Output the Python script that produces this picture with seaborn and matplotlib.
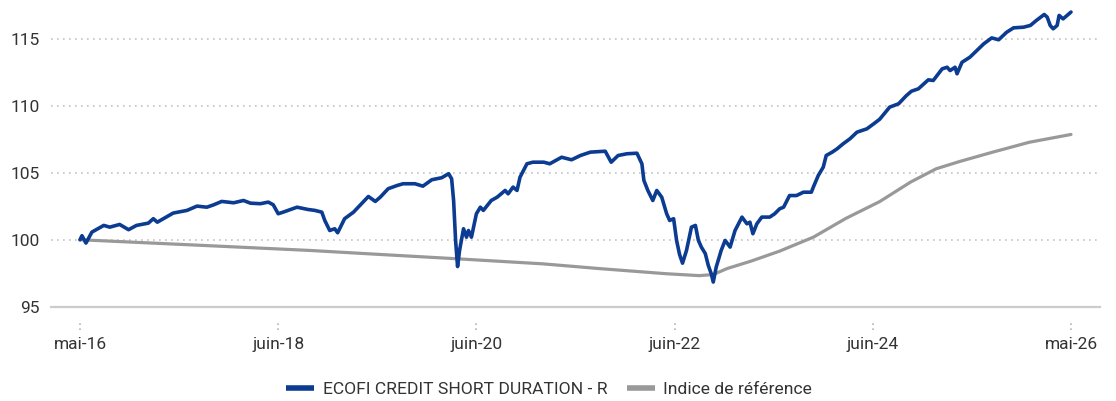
import numpy as np
import pandas as pd
import matplotlib
matplotlib.use("Agg")
import matplotlib.pyplot as plt
import seaborn as sns

# Fund NAV (base 100), dates as decimal years
fund_t = [
    2016.33, 2016.35, 2016.39, 2016.45, 2016.57, 2016.63, 2016.73, 2016.82, 2016.90,
    2017.02, 2017.07, 2017.11, 2017.20, 2017.27, 2017.41, 2017.51, 2017.61, 2017.68,
    2017.76, 2017.88, 2017.98, 2018.05, 2018.15, 2018.23, 2018.28, 2018.33, 2018.38,
    2018.43, 2018.52, 2018.63, 2018.70, 2018.77, 2018.80, 2018.85, 2018.90, 2018.93,
    2019.00, 2019.09, 2019.17, 2019.24, 2019.31, 2019.36, 2019.44, 2019.53, 2019.59,
    2019.71, 2019.79, 2019.88, 2019.98, 2020.05, 2020.08, 2020.10, 2020.12, 2020.14,
    2020.16, 2020.20, 2020.23, 2020.25, 2020.28, 2020.33, 2020.37, 2020.40, 2020.48,
    2020.54, 2020.62, 2020.65, 2020.70, 2020.74, 2020.77, 2020.84, 2020.90, 2021.01,
    2021.07, 2021.19, 2021.29, 2021.38, 2021.48, 2021.63, 2021.69, 2021.76, 2021.85,
    2021.95, 2022.00, 2022.02, 2022.06, 2022.11, 2022.15, 2022.20, 2022.25, 2022.28,
    2022.32, 2022.35, 2022.38, 2022.41, 2022.45, 2022.50, 2022.54, 2022.57, 2022.60,
    2022.64, 2022.67, 2022.70, 2022.72, 2022.75, 2022.80, 2022.84, 2022.89, 2022.94,
    2023.01, 2023.06, 2023.09, 2023.12, 2023.16, 2023.21, 2023.29, 2023.34, 2023.39,
    2023.43, 2023.49, 2023.56, 2023.63, 2023.71, 2023.73, 2023.78, 2023.83, 2023.86,
    2023.92, 2023.97, 2024.03, 2024.10, 2024.17, 2024.27, 2024.34, 2024.40, 2024.50,
    2024.59, 2024.67, 2024.72, 2024.79, 2024.89, 2024.94, 2025.03, 2025.08, 2025.11,
    2025.16, 2025.18, 2025.23, 2025.31, 2025.38, 2025.45, 2025.53, 2025.60, 2025.68,
    2025.75, 2025.85, 2025.92, 2025.98, 2026.06, 2026.09, 2026.12, 2026.15, 2026.19,
    2026.21, 2026.25, 2026.29, 2026.33,
]
fund_v = [
    100.00, 100.30, 99.75, 100.57, 101.07, 100.94, 101.14, 100.75, 101.07,
    101.24, 101.57, 101.31, 101.69, 101.99, 102.19, 102.51, 102.43, 102.61,
    102.86, 102.76, 102.93, 102.73, 102.69, 102.81, 102.61, 101.94, 102.06,
    102.19, 102.43, 102.26, 102.19, 102.06, 101.44, 100.69, 100.82, 100.52,
    101.57, 102.06, 102.69, 103.23, 102.86, 103.18, 103.81, 104.05, 104.18,
    104.18, 104.00, 104.48, 104.63, 104.93, 104.55, 102.93, 99.95, 98.00,
    99.20, 100.82, 100.19, 100.69, 100.19, 101.94, 102.43, 102.19, 102.93,
    103.18, 103.68, 103.43, 103.93, 103.68, 104.67, 105.67, 105.79, 105.79,
    105.67, 106.16, 105.97, 106.29, 106.54, 106.61, 105.79, 106.29, 106.42,
    106.46, 105.67, 104.43, 103.68, 102.93, 103.68, 103.18, 101.94, 101.44,
    101.57, 99.95, 98.90, 98.25, 99.20, 100.94, 101.07, 99.95, 99.45,
    98.96, 98.08, 97.46, 96.84, 97.96, 99.20, 99.95, 99.45, 100.69,
    101.69, 101.19, 101.31, 100.45, 101.19, 101.69, 101.69, 101.94, 102.31,
    102.43, 103.30, 103.30, 103.55, 103.55, 103.93, 104.80, 105.42, 106.29,
    106.54, 106.79, 107.16, 107.54, 108.03, 108.28, 108.66, 109.00, 109.90,
    110.15, 110.77, 111.09, 111.27, 111.94, 111.89, 112.76, 112.88, 112.63,
    112.88, 112.39, 113.25, 113.63, 114.13, 114.63, 115.07, 114.93, 115.49,
    115.82, 115.87, 116.00, 116.37, 116.82, 116.62, 116.00, 115.75, 116.00,
    116.75, 116.49, 116.75, 117.00,
]

# Benchmark index (base 100)
bench_t = [
    2016.33, 2017.50, 2018.65, 2019.36, 2020.13, 2021.00, 2021.58, 2022.25, 2022.58,
    2022.72, 2022.86, 2023.10, 2023.39, 2023.73, 2024.06, 2024.40, 2024.71, 2024.97,
    2025.21, 2025.54, 2025.91, 2026.33,
]
bench_v = [
    100.00, 99.60, 99.20, 98.90, 98.58, 98.20, 97.84, 97.46, 97.32,
    97.40, 97.85, 98.40, 99.15, 100.19, 101.60, 102.85, 104.30, 105.30,
    105.85, 106.54, 107.28, 107.86,
]

fund_name = "ECOFI CREDIT SHORT DURATION - R"
bench_name = "Indice de référence"
tick_labels = ["mai-16", "juin-18", "juin-20", "juin-22", "juin-24", "mai-26"]
y_ticks = [95, 100, 105, 110, 115]

sns.set_theme(style="white")
plt.rcParams["font.family"] = ["Roboto", "DejaVu Sans"]

fig = plt.figure(figsize=(11.16, 4.01), dpi=100)
ax = fig.add_axes([51 / 1116, 1 - 306.7 / 401, (1100 - 51) / 1116, 306.7 / 401])

df_fund = pd.DataFrame({"t": fund_t, "v": fund_v})
df_bench = pd.DataFrame({"t": bench_t, "v": bench_v})

sns.lineplot(data=df_bench, x="t", y="v", ax=ax, color="#999999", linewidth=2.3,
             label=bench_name, zorder=3)
sns.lineplot(data=df_fund, x="t", y="v", ax=ax, color="#0b3c91", linewidth=2.6,
             label=fund_name, zorder=4)

t0, t1 = fund_t[0], fund_t[-1]
span = t1 - t0
pad = span * 29 / 991
ax.set_xlim(t0 - pad, t1 + pad)
ax.set_ylim(95, 117.9)

# dotted horizontal grid
for yv in y_ticks[1:]:
    ax.axhline(yv, color="#c4c4c4", linewidth=1.2, linestyle=(0, (1, 2.6)), zorder=1)

ax.set_yticks(y_ticks)
ax.set_yticklabels([str(v) for v in y_ticks])
xt = np.linspace(t0, t1, len(tick_labels))
ax.set_xticks(xt)
ax.set_xticklabels(tick_labels)

# short dotted tick marks under the baseline
ax.vlines(xt, -0.076, -0.043, transform=ax.get_xaxis_transform(), colors="#b5b5b5",
          linewidth=1.2, linestyles=(0, (1, 2)), clip_on=False)

ax.tick_params(axis="both", length=0, labelsize=12.5, colors="#333333")
ax.tick_params(axis="x", pad=22)
ax.tick_params(axis="y", pad=8)
ax.set_xlabel("")
ax.set_ylabel("")

for s in ["top", "right", "left"]:
    ax.spines[s].set_visible(False)
ax.spines["bottom"].set_color("#cccccc")
ax.spines["bottom"].set_linewidth(1.6)

handles, labels = ax.get_legend_handles_labels()
ax.get_legend().remove()
order = [labels.index(fund_name), labels.index(bench_name)]
leg = fig.legend([handles[i] for i in order], [labels[i] for i in order],
                 loc="center", bbox_to_anchor=(549 / 1116, 1 - 389 / 401),
                 ncol=2, frameon=False, fontsize=12.6, handlelength=1.6,
                 handletextpad=0.5, columnspacing=1.1)
for line in leg.get_lines():
    line.set_linewidth(4)
    line.set_solid_capstyle("butt")
for txt in leg.get_texts():
    txt.set_color("#333333")

fig.savefig("out.png", dpi=100)
